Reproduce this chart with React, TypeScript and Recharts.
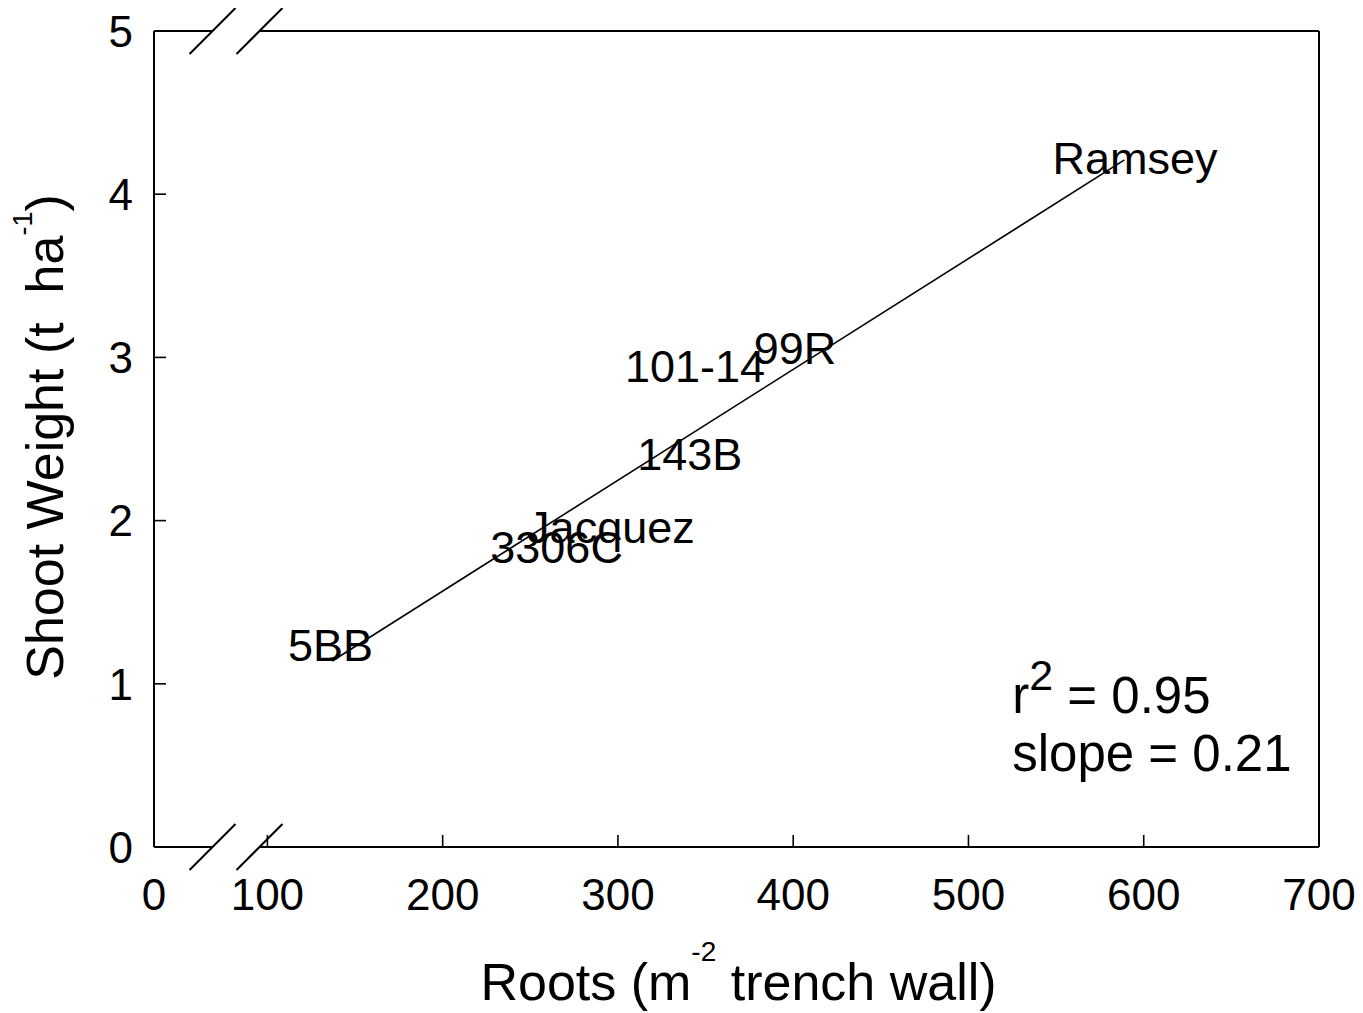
import React from 'react';
import { ScatterChart, Scatter, XAxis, YAxis, ReferenceLine } from 'recharts';

// ---- data ----
const cultivars = ['5BB', '3306C', 'Jacquez', '143B', '101-14', '99R', 'Ramsey'];
const rootCounts = [136, 265, 296, 341, 344, 401, 595];
const shootWeights = [1.24, 1.84, 1.96, 2.41, 2.95, 3.06, 4.22];

// regression line end points
const fitRoots = [137, 589];
const fitShoot = [1.14, 4.21];

// axes (the x axis is broken between 0 and 100)
const xDomain = [35.3, 700];
const xTicks = [35.3, 100, 200, 300, 400, 500, 600, 700];
const xTickLabels = ['0', '100', '200', '300', '400', '500', '600', '700'];
const yDomain = [0, 5];
const yTicks = [0, 1, 2, 3, 4, 5];
const yTickLabels = ['0', '1', '2', '3', '4', '5'];
const breakRoots = [68.7, 95.5];
const breakHalfX = 13.1;
const breakHalfY = 0.141;

// annotation
const statsAnchor = [{ x: 525, y: 0.82 }];
const statsLines = ['r', '2', ' = 0.95', 'slope = 0.21'];

const FONT = '"Liberation Sans", Arial, Helvetica, sans-serif';

const points = cultivars.map((name, i) => ({ x: rootCounts[i], y: shootWeights[i], name }));
const fitSegment = [
  { x: fitRoots[0], y: fitShoot[0] },
  { x: fitRoots[1], y: fitShoot[1] },
];

const isEdgeX = (v: number) => v === xDomain[0] || v === xDomain[1];
const isEdgeY = (v: number) => v === yDomain[0] || v === yDomain[1];

const BottomTick = (p: any) => {
  const v = p.payload.value;
  const idx = xTicks.indexOf(v);
  return (
    <g>
      {!isEdgeX(v) && <line x1={p.x} y1={p.y} x2={p.x} y2={p.y - 12} stroke="#000" strokeWidth={1.6} />}
      <text x={p.x} y={p.y + 63} textAnchor="middle" fontSize={44} fontFamily={FONT} fill="#000">
        {xTickLabels[idx]}
      </text>
    </g>
  );
};

const TopTick = (p: any) => {
  const v = p.payload.value;
  if (isEdgeX(v)) return <g />;
  return <line x1={p.x} y1={p.y} x2={p.x} y2={p.y + 12} stroke="#000" strokeWidth={1.6} />;
};

const LeftTick = (p: any) => {
  const v = p.payload.value;
  const idx = yTicks.indexOf(v);
  return (
    <g>
      {!isEdgeY(v) && <line x1={p.x} y1={p.y} x2={p.x + 12} y2={p.y} stroke="#000" strokeWidth={1.6} />}
      <text x={p.x - 21} y={p.y + 15.7} textAnchor="end" fontSize={44} fontFamily={FONT} fill="#000">
        {yTickLabels[idx]}
      </text>
    </g>
  );
};

const RightTick = (p: any) => {
  const v = p.payload.value;
  if (isEdgeY(v)) return <g />;
  return <line x1={p.x} y1={p.y} x2={p.x - 12} y2={p.y} stroke="#000" strokeWidth={1.6} />;
};

const XTitle = (props: any) => {
  const vb = props.viewBox;
  const cx = vb.x + vb.width / 2 + 2;
  const y = vb.y + 153;
  return (
    <text x={cx} y={y} textAnchor="middle" fontSize={52} fontFamily={FONT} fill="#000" style={{ whiteSpace: 'pre' }}>
      <tspan>Roots (m</tspan>
      <tspan fontSize={28} dy={-39}>-2</tspan>
      <tspan dy={39}> trench wall)</tspan>
    </text>
  );
};

const YTitle = (props: any) => {
  const vb = props.viewBox;
  const x = 55;
  const cy = vb.y + vb.height / 2 - 2;
  return (
    <text
      x={x}
      y={cy}
      transform={`rotate(-90, ${x}, ${cy})`}
      textAnchor="middle"
      fontSize={52}
      fontFamily={FONT}
      fill="#000"
      style={{ whiteSpace: 'pre' }}
    >
      <tspan>Shoot Weight (t  ha</tspan>
      <tspan fontSize={27} dy={-31}>-1</tspan>
      <tspan dy={31}>)</tspan>
    </text>
  );
};

const NameLabel = (p: any) => (
  <text x={p.cx} y={p.cy + 16} textAnchor="middle" fontSize={45} fontFamily={FONT} fill="#000">
    {p.payload.name}
  </text>
);

const StatsLabel = (p: any) => (
  <g>
    <text x={p.cx} y={p.cy} fontSize={51} fontFamily={FONT} fill="#000" style={{ whiteSpace: 'pre' }}>
      <tspan>{statsLines[0]}</tspan>
      <tspan fontSize={43} dy={-23}>{statsLines[1]}</tspan>
      <tspan dy={23}>{statsLines[2]}</tspan>
    </text>
    <text x={p.cx} y={p.cy + 58} fontSize={51} fontFamily={FONT} fill="#000">
      {statsLines[3]}
    </text>
  </g>
);

const frameSegments = [
  [{ x: xDomain[0], y: yDomain[0] }, { x: breakRoots[0], y: yDomain[0] }],
  [{ x: breakRoots[1], y: yDomain[0] }, { x: xDomain[1], y: yDomain[0] }],
  [{ x: xDomain[0], y: yDomain[1] }, { x: breakRoots[0], y: yDomain[1] }],
  [{ x: breakRoots[1], y: yDomain[1] }, { x: xDomain[1], y: yDomain[1] }],
  [{ x: xDomain[0], y: yDomain[0] }, { x: xDomain[0], y: yDomain[1] }],
  [{ x: xDomain[1], y: yDomain[0] }, { x: xDomain[1], y: yDomain[1] }],
];

const slashSegments: any[] = [];
breakRoots.forEach((b) => {
  yDomain.forEach((e) => {
    slashSegments.push([
      { x: b - breakHalfX, y: e - breakHalfY },
      { x: b + breakHalfX, y: e + breakHalfY },
    ]);
  });
});

export default function App() {
  return (
    <div style={{ width: 1347, height: 1005, background: '#fff' }}>
      <ScatterChart width={1347} height={1005} margin={{ top: 23, right: 36, bottom: 0, left: 0 }}>
        <XAxis
          dataKey="x"
          type="number"
          domain={xDomain}
          ticks={xTicks}
          interval={0}
          allowDataOverflow
          height={166}
          axisLine={false}
          tickLine={false}
          tickSize={0}
          tickMargin={0}
          tick={(p: any) => <BottomTick {...p} />}
          label={{ content: (p: any) => <XTitle {...p} /> }}
        />
        <XAxis
          xAxisId="top"
          orientation="top"
          dataKey="x"
          type="number"
          domain={xDomain}
          ticks={xTicks}
          interval={0}
          allowDataOverflow
          height={0}
          axisLine={false}
          tickLine={false}
          tickSize={0}
          tickMargin={0}
          tick={(p: any) => <TopTick {...p} />}
        />
        <YAxis
          dataKey="y"
          type="number"
          domain={yDomain}
          ticks={yTicks}
          interval={0}
          allowDataOverflow
          width={146}
          axisLine={false}
          tickLine={false}
          tickSize={0}
          tickMargin={0}
          tick={(p: any) => <LeftTick {...p} />}
          label={{ content: (p: any) => <YTitle {...p} /> }}
        />
        <YAxis
          yAxisId="right"
          orientation="right"
          dataKey="y"
          type="number"
          domain={yDomain}
          ticks={yTicks}
          interval={0}
          allowDataOverflow
          width={0}
          axisLine={false}
          tickLine={false}
          tickSize={0}
          tickMargin={0}
          tick={(p: any) => <RightTick {...p} />}
        />
        {frameSegments.map((s, i) => (
          <ReferenceLine key={'f' + i} segment={s} stroke="#000" strokeWidth={2} ifOverflow="visible" />
        ))}
        {slashSegments.map((s, i) => (
          <ReferenceLine key={'b' + i} segment={s} stroke="#000" strokeWidth={2} ifOverflow="visible" />
        ))}
        <ReferenceLine segment={fitSegment} stroke="#000" strokeWidth={1.6} ifOverflow="visible" />
        <Scatter data={points} isAnimationActive={false} shape={(p: any) => <NameLabel {...p} />} />
        <Scatter data={statsAnchor} isAnimationActive={false} shape={(p: any) => <StatsLabel {...p} />} />
      </ScatterChart>
    </div>
  );
}
